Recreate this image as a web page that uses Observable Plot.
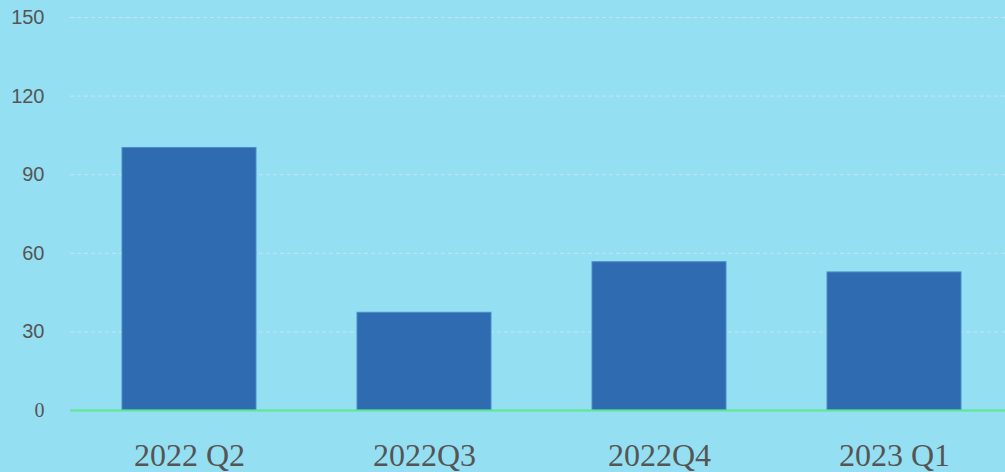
<!DOCTYPE html>
<html>
<head>
<meta charset="utf-8">
<script src="https://cdn.jsdelivr.net/npm/d3@7"></script>
<script src="https://cdn.jsdelivr.net/npm/@observablehq/plot@0.6"></script>
<style>
  html, body { margin: 0; padding: 0; background: #95dff3; }
  #chart svg { display: block; }
</style>
</head>
<body>
<div id="chart"></div>
<script>
const categories = ["2022 Q2", "2022Q3", "2022Q4", "2023 Q1"];
const values = [100.2, 37.3, 56.6, 52.7];
const yTicks = [30, 60, 90, 120, 150];

const data = categories.map((c, i) => ({category: c, value: values[i]}));

const chart = Plot.plot({
  width: 1005,
  height: 472,
  marginLeft: 70,
  marginRight: -8,
  marginTop: 17,
  marginBottom: 62,
  style: {background: "#95dff3", overflow: "hidden"},
  x: {domain: categories, paddingInner: 0.43, paddingOuter: 0.215, label: null},
  y: {domain: [0, 150], label: null},
  marks: [
    Plot.ruleY(yTicks, {stroke: "#c4e3f2", strokeWidth: 1, strokeDasharray: "4,3"}),
    Plot.barY(data, {x: "category", y: "value", fill: "#2e6bb0", stroke: "#4d8cc8", strokeWidth: 1}),
    Plot.ruleY([0], {stroke: "#5ee88c", strokeWidth: 2}),
    Plot.axisY(yTicks, {tickSize: 0, tickPadding: 26, fontSize: 20, fill: "#555555", fontFamily: "Liberation Sans, Arial, sans-serif", label: null}),
    Plot.axisY([0], {tickSize: 0, tickPadding: 26, fontSize: 20, fill: "#555555", fontFamily: "Liberation Serif, serif", label: null}),
    Plot.axisX({tickSize: 0, tickPadding: 33, fontSize: 32, fill: "#555555", fontFamily: "Liberation Serif, serif", label: null})
  ]
});
document.getElementById("chart").appendChild(chart);
</script>
</body>
</html>
